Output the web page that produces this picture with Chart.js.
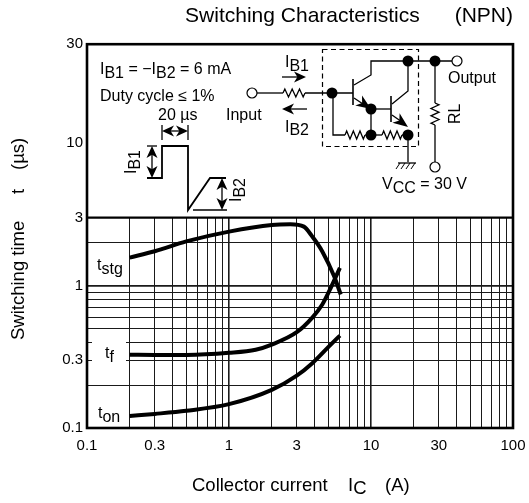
<!DOCTYPE html>
<html>
<head>
<meta charset="utf-8">
<style>
  html, body { margin: 0; padding: 0; background: #fff; }
  #wrap { width: 529px; height: 503px; position: relative; }
</style>
<script src="https://cdn.jsdelivr.net/npm/chart.js@4"></script>
</head>
<body>
<div id="wrap"><canvas id="chart" width="529" height="503"></canvas></div>
<script>
// values
const tstgX = [0.2, 0.3, 0.5, 1, 2, 2.7, 3.37, 3.84, 4.53, 5.5, 6.12];
const tstgY = [1.57, 1.74, 2.04, 2.39, 2.66, 2.69, 2.59, 2.22, 1.74, 1.16, 0.865];
const tfX = [0.2, 0.3, 0.5, 1, 1.54, 2, 3, 3.86, 4.54, 5.2, 6.04];
const tfY = [0.327, 0.326, 0.326, 0.337, 0.354, 0.385, 0.47, 0.595, 0.735, 0.96, 1.33];
const tonX = [0.2, 0.3, 0.5, 1, 2, 3, 3.86, 5.06, 6.04];
const tonY = [0.1216, 0.1256, 0.132, 0.147, 0.185, 0.233, 0.285, 0.374, 0.445];

const xGrid = [0.1,0.2,0.3,0.4,0.5,0.6,0.7,0.8,0.9,1,2,3,4,5,6,7,8,9,10,20,30,40,50,60,70,80,90,100];
const xLabels = [0.1, 0.3, 1, 3, 10, 30, 100];
const yGrid = [0.1,0.2,0.3,0.4,0.5,0.6,0.7,0.8,0.9,1,2,3];
const yLabels = [0.1, 0.3, 1, 3, 10];
// the top edge carries the label 30 although the log scale would reach about 49 there
const yTop = 49.4;
const yTopLabel = '30';

const black = '#000';
const font = 'Liberation Sans, Arial, sans-serif';

function toPoints(xs, ys) {
  return xs.map((x, i) => ({ x: x, y: ys[i] }));
}

function line(ctx, pts, w) {
  ctx.lineWidth = w || 1.3;
  ctx.beginPath();
  pts.forEach((p, i) => i ? ctx.lineTo(p[0], p[1]) : ctx.moveTo(p[0], p[1]));
  ctx.stroke();
}

function dot(ctx, x, y, r) {
  ctx.beginPath();
  ctx.arc(x, y, r || 5.5, 0, Math.PI * 2);
  ctx.fill();
}

function ring(ctx, x, y) {
  ctx.lineWidth = 1.2;
  ctx.beginPath();
  ctx.arc(x, y, 5, 0, Math.PI * 2);
  ctx.fillStyle = '#fff';
  ctx.fill();
  ctx.stroke();
  ctx.fillStyle = black;
}

function head(ctx, x, y, ang, len, wid) {
  ctx.save();
  ctx.translate(x, y);
  ctx.rotate(ang);
  ctx.beginPath();
  ctx.moveTo(0, 0);
  ctx.lineTo(-len, -wid);
  ctx.lineTo(-len * 0.72, 0);
  ctx.lineTo(-len, wid);
  ctx.closePath();
  ctx.fill();
  ctx.restore();
}

function doubleV(ctx, x, y0, y1) {
  line(ctx, [[x, y0 + 4], [x, y1 - 4]], 1.3);
  head(ctx, x, y0, -Math.PI / 2, 12, 5.5);
  head(ctx, x, y1, Math.PI / 2, 12, 5.5);
}

function zigH(ctx, x0, x1, y) {
  const n = 6, d = (x1 - x0) / n, pts = [[x0, y]];
  for (let i = 0; i < n; i++) pts.push([x0 + d * (i + 0.5), y + (i % 2 ? 4 : -4)]);
  pts.push([x1, y]);
  line(ctx, pts, 1.3);
}

function zigV(ctx, x, y0, y1) {
  const n = 6, d = (y1 - y0) / n, pts = [[x, y0]];
  for (let i = 0; i < n; i++) pts.push([x + (i % 2 ? -4 : 4), y0 + d * (i + 0.5)]);
  pts.push([x, y1]);
  line(ctx, pts, 1.3);
}

// parts: [text, isSubscript]
function subText(ctx, x, y, parts, size) {
  ctx.textAlign = 'left';
  ctx.textBaseline = 'alphabetic';
  ctx.font = size + 'px ' + font;
  parts.forEach(p => {
    ctx.fillText(p[0], x, y + (p[1] ? 3.5 : 0));
    x += ctx.measureText(p[0]).width;
  });
}

function rotText(ctx, x, y, parts, size) {
  ctx.save();
  ctx.translate(x, y);
  ctx.rotate(-Math.PI / 2);
  subText(ctx, 0, 0, parts, size);
  ctx.restore();
}

const panelPlugin = {
  id: 'panel',
  beforeDatasetsDraw(chart) {
    const ctx = chart.ctx, a = chart.chartArea, ys = chart.scales.y;
    const y3 = ys.getPixelForValue(3);
    ctx.save();
    ctx.fillStyle = '#fff';
    // upper panel has no grid, tf label sits in a clear box
    ctx.fillRect(a.left, a.top, a.right - a.left, y3 - a.top);
    ctx.fillRect(92, 335, 34, 31);
    ctx.restore();
  },
  afterDraw(chart) {
    const ctx = chart.ctx, a = chart.chartArea, ys = chart.scales.y;
    const y3 = ys.getPixelForValue(3);
    ctx.save();
    ctx.strokeStyle = black;
    ctx.fillStyle = black;
    ctx.lineJoin = 'miter';

    // frame
    ctx.lineWidth = 2.6;
    ctx.strokeRect(a.left, a.top, a.right - a.left, a.bottom - a.top);
    line(ctx, [[a.left, y3], [a.right, y3]], 2.2);

    // curve names
    subText(ctx, 97, 270, [['t'], ['stg', 1]], 16);
    subText(ctx, 105, 358, [['t'], ['f', 1]], 16);
    subText(ctx, 98, 418, [['t'], ['on', 1]], 16);

    // conditions
    subText(ctx, 100, 74, [['I'], ['B1', 1], [' = −I'], ['B2', 1], [' = 6 mA']], 16);
    subText(ctx, 100, 101, [['Duty cycle ≤ 1%']], 16);
    subText(ctx, 158, 120, [['20 µs']], 16);
    subText(ctx, 226, 120, [['Input']], 16);

    // pulse
    line(ctx, [[147, 178], [162, 178], [162, 146], [188, 146], [188, 210], [210, 178], [226, 178]], 1.8);
    line(ctx, [[147, 146], [157, 146]]);
    line(ctx, [[193, 210], [227, 210]]);
    line(ctx, [[162, 125], [162, 140]]);
    line(ctx, [[188, 125], [188, 140]]);
    line(ctx, [[166, 131], [184, 131]]);
    head(ctx, 162, 131, Math.PI, 12, 5.5);
    head(ctx, 188, 131, 0, 12, 5.5);
    doubleV(ctx, 152, 146, 178);
    doubleV(ctx, 222, 178, 210);
    rotText(ctx, 136, 174, [['I'], ['B1', 1]], 16);
    rotText(ctx, 241, 202, [['I'], ['B2', 1]], 16);

    // input side
    line(ctx, [[257, 93], [283, 93]]);
    zigH(ctx, 283, 305, 93);
    line(ctx, [[305, 93], [353, 93]]);
    ring(ctx, 252, 93);
    dot(ctx, 332, 93);
    line(ctx, [[282, 77], [304, 77]]);
    head(ctx, 306, 77, 0, 12, 5.5);
    line(ctx, [[284, 109], [307, 109]]);
    head(ctx, 282, 109, Math.PI, 12, 5.5);
    subText(ctx, 285, 67, [['I'], ['B1', 1]], 16);
    subText(ctx, 285, 131.5, [['I'], ['B2', 1]], 16);

    // darlington box
    ctx.setLineDash([5, 3.5]);
    ctx.lineWidth = 1.2;
    ctx.strokeRect(322.5, 49.5, 96, 97);
    ctx.setLineDash([]);

    // transistors
    line(ctx, [[353, 79], [353, 105]], 1.6);
    line(ctx, [[354, 85], [371, 75], [371, 61], [452, 61]]);
    line(ctx, [[354, 98], [366, 106]]);
    head(ctx, 371, 109, Math.atan2(11, 16), 15, 6);
    dot(ctx, 371, 109);
    line(ctx, [[371, 109], [391, 109]]);
    line(ctx, [[371, 109], [371, 135]]);
    line(ctx, [[391, 96], [391, 122]], 1.6);
    line(ctx, [[392, 104], [408, 91], [408, 61]]);
    line(ctx, [[392, 115], [402, 122]]);
    head(ctx, 408, 127, Math.atan2(12, 16), 15, 6);
    line(ctx, [[333, 93], [333, 135], [345, 135]]);
    zigH(ctx, 345, 365, 135);
    line(ctx, [[365, 135], [382, 135]]);
    zigH(ctx, 382, 402, 135);
    line(ctx, [[402, 135], [408, 135], [408, 162]]);
    dot(ctx, 371, 135);
    dot(ctx, 408, 135);
    dot(ctx, 408, 61);
    dot(ctx, 435, 61);

    // ground
    line(ctx, [[398, 163], [416, 163]]);
    [400, 405, 410, 415].forEach(x => line(ctx, [[x, 163], [x - 4, 169]], 1));

    // output side
    line(ctx, [[435, 61], [435, 103]]);
    zigV(ctx, 435, 103, 125);
    line(ctx, [[435, 125], [435, 163]]);
    ring(ctx, 457, 61);
    ring(ctx, 435, 167);
    subText(ctx, 448, 83, [['Output']], 16);
    rotText(ctx, 460, 124, [['RL']], 16);
    subText(ctx, 382, 189, [['V'], ['CC', 1], [' = 30 V']], 16);

    // axis titles, split because of the wide gaps and the subscript
    subText(ctx, 192, 490.5, [['Collector current']], 18.5);
    subText(ctx, 348, 490.5, [['I'], ['C', 1]], 18.5);
    subText(ctx, 385, 490.5, [['(A)']], 18.5);
    rotText(ctx, 24, 340, [['Switching time']], 18.5);
    rotText(ctx, 24, 194, [['t']], 18.5);
    rotText(ctx, 24, 170, [['(µs)']], 18.5);
    ctx.restore();
  }
};

new Chart(document.getElementById('chart'), {
  type: 'line',
  plugins: [panelPlugin],
  data: {
    datasets: [
      { label: 'tstg', data: toPoints(tstgX, tstgY) },
      { label: 'tf', data: toPoints(tfX, tfY) },
      { label: 'ton', data: toPoints(tonX, tonY) }
    ]
  },
  options: {
    responsive: false,
    animation: false,
    layout: { padding: { top: 0, right: 16, left: 0, bottom: 0 } },
    elements: {
      point: { radius: 0 },
      line: { borderColor: black, borderWidth: 4, cubicInterpolationMode: 'monotone', borderCapStyle: 'butt', fill: false }
    },
    plugins: {
      legend: { display: false },
      tooltip: { enabled: false },
      title: {
        display: true,
        text: 'Switching Characteristics      (NPN)',
        align: 'end',
        color: black,
        font: { family: font, size: 21, weight: 'normal' },
        padding: { top: 4, bottom: 15 }
      }
    },
    scales: {
      x: {
        type: 'logarithmic',
        min: 0.1,
        max: 100,
        afterBuildTicks: s => { s.ticks = xGrid.map(v => ({ value: v })); },
        afterFit: s => { s.height = 75; s.paddingLeft = 0; s.paddingRight = 0; },
        grid: {
          drawTicks: false,
          color: '#1a1a1a',
          lineWidth: c => [1, 10].includes(c.tick.value) ? 1.6 : 1
        },
        border: { display: false },
        ticks: {
          autoSkip: false,
          maxRotation: 0,
          padding: 9,
          color: black,
          font: { family: font, size: 15 },
          callback: v => xLabels.includes(v) ? String(v) : ''
        }
      },
      y: {
        type: 'logarithmic',
        min: 0.1,
        max: yTop,
        afterBuildTicks: s => {
          s.ticks = [...new Set(yGrid.concat(yLabels))].map(v => ({ value: v }));
          s.ticks.push({ value: yTop });
        },
        afterFit: s => { s.width = 87; s.paddingTop = 0; s.paddingBottom = 0; },
        grid: {
          drawTicks: false,
          color: '#1a1a1a',
          lineWidth: c => c.tick.value === 1 ? 1.8 : 1
        },
        border: { display: false },
        ticks: {
          autoSkip: false,
          padding: 4,
          color: black,
          font: { family: font, size: 15 },
          callback: v => v === yTop ? yTopLabel : (yLabels.includes(v) ? String(v) : '')
        }
      }
    }
  }
});
</script>
</body>
</html>
